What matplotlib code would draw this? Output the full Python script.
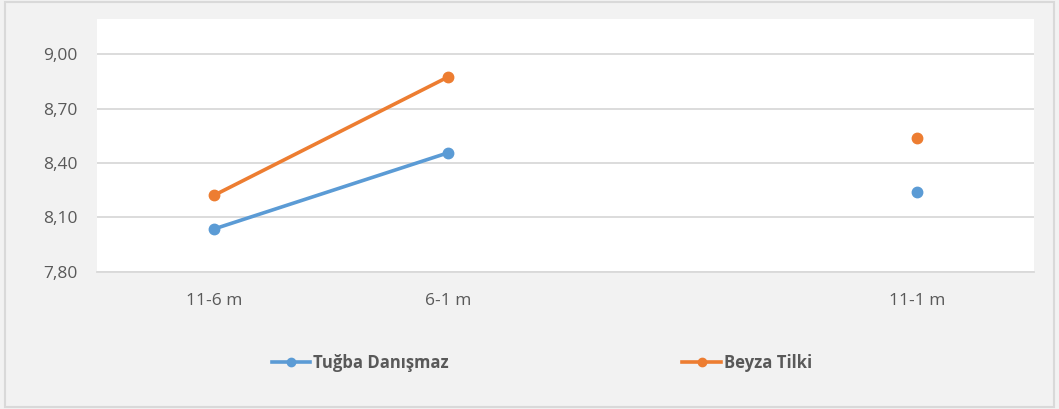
import numpy as np
import matplotlib.pyplot as plt
from matplotlib.lines import Line2D
from matplotlib.patches import Rectangle

# categories (third slot is an empty category in the original chart)
categories = ["11-6 m", "6-1 m", "", "11-1 m"]
tugba = [8.036, 8.457, np.nan, 8.242]
beyza = [8.222, 8.876, np.nan, 8.537]
yticks = [7.80, 8.10, 8.40, 8.70, 9.00]

blue = "#5B9BD5"
orange = "#ED7D31"
grid_c = "#D9D9D9"
txt_c = "#595959"

plt.rcParams['font.family'] = ['Open Sans', 'DejaVu Sans']

fig = plt.figure(figsize=(10.59, 4.09), dpi=100, facecolor="#F2F2F2")
fig.patches.append(Rectangle((0.005, 0.005), 0.99, 0.99, transform=fig.transFigure,
                             fill=False, edgecolor=grid_c, linewidth=1.5))

ax = fig.add_axes([0.0916, 0.3357, 0.8848, 0.6178])
ax.set_facecolor("white")

x = np.arange(len(categories))
ax.plot(x, tugba, color=blue, lw=2.6, marker="o", ms=7.5, solid_capstyle="round")
ax.plot(x, beyza, color=orange, lw=2.6, marker="o", ms=7.5, solid_capstyle="round")

ax.set_xlim(-0.5, len(categories) - 0.5)
ax.set_ylim(7.80, 9.195)
ax.set_yticks(yticks)
ax.set_yticklabels([f"{v:.2f}".replace(".", ",") for v in yticks], color=txt_c, fontsize=12.5)
ax.set_xticks(x)
ax.set_xticklabels(categories, color=txt_c, fontsize=12.5)
ax.tick_params(length=0)
ax.tick_params(axis="y", pad=14)
ax.tick_params(axis="x", pad=15)
ax.grid(axis="y", color=grid_c, lw=1.3)
ax.set_axisbelow(True)
for s in ["left", "right", "top"]:
    ax.spines[s].set_visible(False)
ax.spines["bottom"].set_color(grid_c)
ax.spines["bottom"].set_linewidth(1.3)

handles = [Line2D([], [], color=blue, lw=2.6, marker="o", ms=6),
           Line2D([], [], color=orange, lw=2.6, marker="o", ms=6)]
fig.legend(handles, ["Tuğba Danışmaz", "Beyza Tilki"], loc="center",
           bbox_to_anchor=(542 / 1059, 1 - 363 / 409), ncol=2, frameon=False,
           prop={"weight": "bold", "size": 12}, labelcolor=txt_c,
           handlelength=2.3, handletextpad=0.2, columnspacing=14.0)

fig.savefig("out.png", dpi=100, facecolor=fig.get_facecolor())
